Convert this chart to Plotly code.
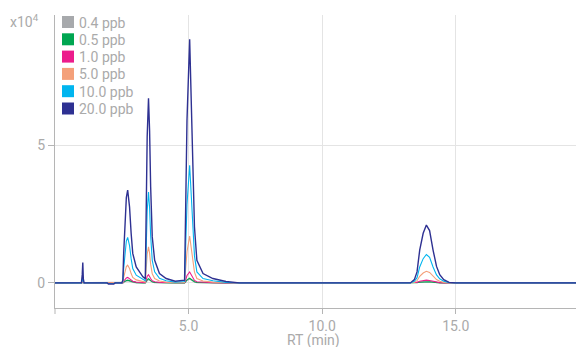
import plotly.graph_objects as go

# Retention time grid (min)
rt = [0.00, 0.99, 1.02, 1.04, 1.06, 1.09,
      1.95, 2.00, 2.20, 2.25,
      2.50, 2.54, 2.57, 2.62, 2.67, 2.72, 2.79, 2.85, 2.91, 3.04, 3.29,
      3.38, 3.41, 3.45, 3.50, 3.54, 3.58, 3.64, 3.73, 3.91, 4.16, 4.50,
      4.85, 4.89, 4.94, 5.04, 5.10, 5.16, 5.22, 5.31, 5.54, 5.91, 6.40, 6.90,
      13.30, 13.45, 13.55, 13.65, 13.78, 13.90, 14.02, 14.15, 14.28, 14.40, 14.55, 14.75, 15.00,
      19.50]

# Intensities (x10^4)
ppb_0_4 = [0, 0, 0.01, 0.02, 0, 0,
           0, 0, 0, 0,
           0, 0, 0.02, 0.05, 0.07, 0.08, 0.06, 0.04, 0.02, 0.01, 0,
           0, 0.04, 0.09, 0.12, 0.10, 0.06, 0.03, 0.01, 0, 0, 0,
           0, 0.04, 0.09, 0.14, 0.10, 0.07, 0.03, 0.01, 0, 0, 0, 0,
           0, 0, 0.01, 0.02, 0.03, 0.04, 0.03, 0.02, 0.01, 0, 0, 0, 0,
           0]
ppb_0_5 = [0, 0, 0.01, 0.03, 0, 0,
           0, 0, 0, 0,
           0, 0, 0.03, 0.07, 0.09, 0.10, 0.08, 0.05, 0.03, 0.01, 0,
           0, 0.05, 0.12, 0.15, 0.12, 0.08, 0.04, 0.02, 0.01, 0, 0,
           0, 0.05, 0.11, 0.17, 0.12, 0.08, 0.04, 0.02, 0.01, 0, 0, 0,
           0, 0, 0.01, 0.03, 0.04, 0.05, 0.04, 0.03, 0.01, 0, 0, 0, 0,
           0]
ppb_1_0 = [0, 0, 0.02, 0.05, 0.01, 0,
           0, 0, 0, 0,
           0, 0, 0.06, 0.14, 0.18, 0.20, 0.16, 0.10, 0.06, 0.03, 0.01,
           0.01, 0.10, 0.24, 0.30, 0.25, 0.16, 0.08, 0.04, 0.02, 0.01, 0,
           0.01, 0.10, 0.27, 0.40, 0.29, 0.19, 0.09, 0.04, 0.02, 0.01, 0, 0,
           0, 0, 0.02, 0.06, 0.09, 0.10, 0.09, 0.06, 0.03, 0.01, 0, 0, 0,
           0]
ppb_5_0 = [0, 0, 0.04, 0.10, 0.02, 0,
           0, 0, 0, 0,
           0, 0.02, 0.20, 0.45, 0.59, 0.64, 0.52, 0.34, 0.20, 0.11, 0.04,
           0.03, 0.45, 1.04, 1.31, 1.08, 0.68, 0.33, 0.16, 0.07, 0.03, 0.01,
           0.02, 0.44, 1.13, 1.70, 1.25, 0.79, 0.39, 0.16, 0.07, 0.03, 0.01, 0,
           0, 0.02, 0.08, 0.24, 0.36, 0.42, 0.38, 0.24, 0.12, 0.06, 0.02, 0, 0,
           0]
ppb_10_0 = [0, 0, 0.10, 0.25, 0.05, 0,
            0, -0.02, -0.02, 0,
            0, 0.05, 0.52, 1.17, 1.52, 1.65, 1.35, 0.88, 0.52, 0.28, 0.11,
            0.08, 1.12, 2.61, 3.30, 2.73, 1.72, 0.82, 0.40, 0.17, 0.08, 0.03,
            0.05, 1.10, 2.85, 4.27, 3.14, 1.98, 0.98, 0.40, 0.16, 0.08, 0.02, 0,
            0, 0.06, 0.19, 0.58, 0.88, 1.03, 0.93, 0.58, 0.29, 0.15, 0.06, 0.01, 0,
            0]
ppb_20_0 = [0, 0, 0.30, 0.74, 0.15, 0,
            0, -0.04, -0.04, 0,
            0, 0.10, 1.07, 2.40, 3.10, 3.37, 2.76, 1.79, 1.07, 0.58, 0.22,
            0.15, 2.28, 5.30, 6.70, 5.54, 3.49, 1.67, 0.82, 0.34, 0.16, 0.06,
            0.10, 2.28, 5.90, 8.84, 6.50, 4.10, 2.03, 0.82, 0.34, 0.16, 0.05, 0,
            0, 0.12, 0.40, 1.19, 1.80, 2.10, 1.90, 1.19, 0.60, 0.30, 0.12, 0.02, 0,
            0]

series_names = ["0.4 ppb", "0.5 ppb", "1.0 ppb", "5.0 ppb", "10.0 ppb", "20.0 ppb"]
series_values = [ppb_0_4, ppb_0_5, ppb_1_0, ppb_5_0, ppb_10_0, ppb_20_0]
colors = ["#a7a9ac", "#00a651", "#ec1c8c", "#f4a07a", "#00b5ef", "#2e3192"]

x_tickvals = [5, 10, 15]
x_ticktext = ["5.0", "10.0", "15.0"]
y_tickvals = [0, 5]
y_ticktext = ["0", "5"]

W, H = 576, 347
L, R, T, B = 55, 0, 15, 39
pw, ph = W - L - R, H - T - B

TXT = "#aaaaaa"
AXC = "#b5b5b5"
FONT = "Roboto"

fig = go.Figure()
for name, vals, col in zip(series_names, series_values, colors):
    fig.add_trace(go.Scatter(x=rt, y=vals, mode="lines", name=name,
                             line=dict(color=col, width=1.4 if col == "#2e3192" else 1.1),
                             showlegend=False, hoverinfo="skip"))

def px_x(p):
    return (p - L) / pw

def px_y(p):
    return (H - B - p) / ph

# manual legend
for i, (name, col) in enumerate(zip(series_names, colors)):
    top = 16 + 17.3 * i
    fig.add_shape(type="rect", xref="paper", yref="paper",
                  x0=px_x(62), x1=px_x(74), y0=px_y(top + 12), y1=px_y(top),
                  fillcolor=col, line=dict(width=0), layer="above")
    fig.add_annotation(xref="paper", yref="paper", x=px_x(77), y=px_y(top + 6.5),
                       text=name, showarrow=False, xanchor="left", yanchor="middle",
                       font=dict(family=FONT, size=14, color=TXT))

# corner tick below the y axis
fig.add_shape(type="line", xref="paper", yref="paper",
              x0=0, x1=0, y0=0, y1=px_y(H - B + 6),
              line=dict(color=AXC, width=1))

fig.add_annotation(xref="paper", yref="paper", x=px_x(41), y=px_y(21),
                   text="x10<sup>4</sup>", showarrow=False, xanchor="right", yanchor="middle",
                   font=dict(family=FONT, size=14, color=TXT))
fig.add_annotation(xref="paper", yref="paper", x=px_x(313), y=px_y(340.5),
                   text="RT (min)", showarrow=False, xanchor="center", yanchor="middle",
                   font=dict(family=FONT, size=14, color=TXT))

fig.update_layout(
    width=W, height=H,
    margin=dict(l=L, r=R, t=T, b=B),
    paper_bgcolor="white", plot_bgcolor="white",
    font=dict(family=FONT, size=14, color=TXT),
    xaxis=dict(range=[0, 19.5], tickvals=x_tickvals, ticktext=x_ticktext,
               showgrid=True, gridcolor="#e4e4e4", gridwidth=1,
               showline=True, linecolor=AXC, linewidth=1,
               ticks="outside", ticklen=5, tickcolor=AXC,
               zeroline=False, tickfont=dict(family=FONT, size=14, color=TXT)),
    yaxis=dict(range=[-0.91, 9.72], tickvals=y_tickvals, ticktext=y_ticktext,
               showgrid=True, gridcolor="#e4e4e4", gridwidth=1,
               showline=True, linecolor=AXC, linewidth=1,
               ticks="outside", ticklen=6, tickcolor=AXC,
               zeroline=False, tickfont=dict(family=FONT, size=14, color=TXT)),
    showlegend=False,
)

fig.write_html("out.html", config={"displayModeBar": False},
               post_script="document.body.style.margin='0';document.body.style.overflow='hidden';")
